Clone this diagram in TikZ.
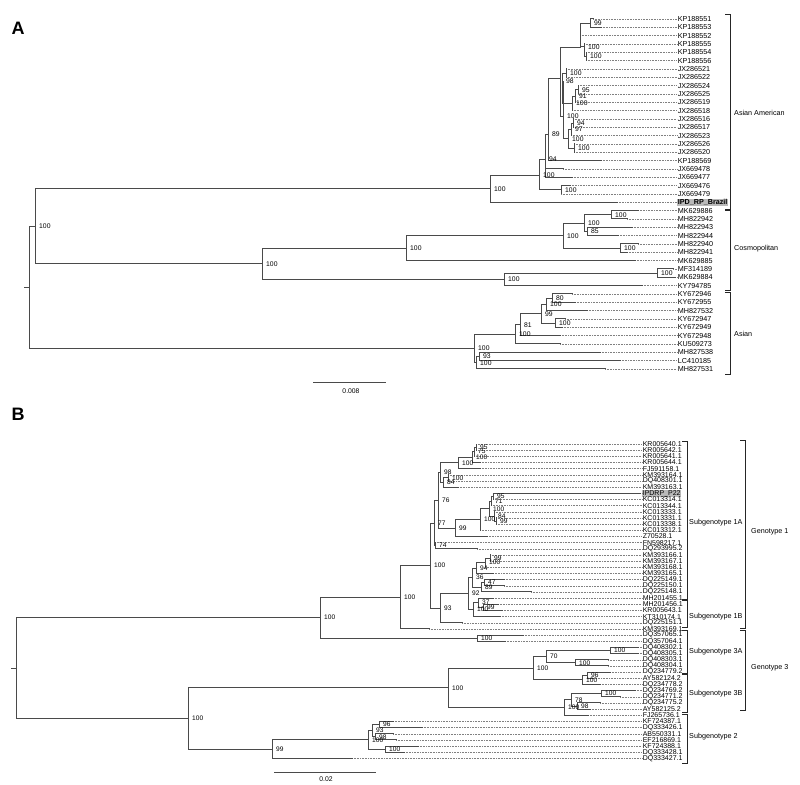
\documentclass[tikz,border=0pt]{standalone}
\usepackage{fontspec}
\setmainfont{Liberation Sans}
\usetikzlibrary{positioning}
\definecolor{treegray}{HTML}{4A4A4A}

\tikzset{
  branch/.style={draw=treegray, line width=1pt, line cap=rect},
  leader/.style={draw=gray, line width=0.4pt, dash pattern=on 0.8pt off 0.8pt},
  taxon/.style={anchor=west, inner sep=0.6pt, font=\fontsize{7.2}{7.2}\selectfont},
  hl/.style={taxon, fill=gray!55, font=\fontsize{7.2}{7.2}\selectfont\bfseries},
  boot/.style={anchor=west, inner sep=0pt, xshift=4pt, font=\fontsize{6.8}{6.8}\selectfont},
  bracket/.style={draw=black!85, line width=1pt},
  grouplab/.style={anchor=west, inner sep=0pt, font=\fontsize{7.2}{7.2}\selectfont},
  panel/.style={font=\fontsize{18}{18}\selectfont\bfseries},
}

% clade: name, x, y, support, children
\newcommand{\clade}[5]{%
  \coordinate (#1) at (#2,#3);
  \foreach \ch in {#5}{\draw[branch] (#1) |- (\ch);}
  \ifx&#4&\else\node[boot] (#1-bs) at (#1) {#4};\fi
}
% group bracket: x, top, bottom
\newcommand{\grp}[3]{\draw[bracket] ({#1-5},#2) -- (#1,#2) -- (#1,#3) -- ({#1-5},#3);}

\begin{document}
\begin{tikzpicture}[x=1pt,y=-1pt]
\useasboundingbox (0,0) rectangle (800,784);

%%%%%%%%%%%%%%%%%%%%%%%%%%%%%%%%%%%%%%%%%%%%%%%%%%%%
% Panel A
\node[panel] (labA) at (18,28) {A};

%Taxa
\foreach \nm/\tx/\st [count=\i] in {KP188551/593/taxon, KP188553/601/taxon, KP188552/580/taxon,
    KP188555/584/taxon, KP188554/586/taxon, KP188556/586/taxon, JX286521/566/taxon,
    JX286522/566/taxon, JX286524/578/taxon, JX286525/578/taxon, JX286519/575/taxon,
    JX286518/572/taxon, JX286516/573/taxon, JX286517/573/taxon, JX286523/571/taxon,
    JX286526/574/taxon, JX286520/574/taxon, KP188569/601/taxon, JX669478/563/taxon,
    JX669477/572/taxon, JX669476/570/taxon, JX669479/561/taxon, IPD\_RP\_Brazil/617/hl,
    MK629886/638/taxon, MH822942/627/taxon, MH822943/632/taxon, MH822944/618/taxon,
    MH822940/638/taxon, MH822941/627/taxon, MK629885/635/taxon, MF314189/673/taxon,
    MK629884/675/taxon, KY794785/642/taxon, KY672946/572/taxon, KY672955/575/taxon,
    MH827532/587/taxon, KY672947/565/taxon, KY672949/562/taxon, KY672948/560/taxon,
    KU509273/560/taxon, MH827538/600/taxon, LC410185/620/taxon, MH827531/605/taxon}{
  \node[\st] (a\i) at (677,{19+(\i-1)*8.33}) {\nm};
  \coordinate (ta\i) at (\tx,{19+(\i-1)*8.33});
  \draw[leader] (ta\i) -- (a\i.west);
}

%Asian American
\clade{a99}{590}{23.2}{99}{ta1,ta2}
\clade{a100b}{586}{56.5}{100}{ta5,ta6}
\clade{a100a}{584}{47}{100}{ta4,a100b}
\clade{akp}{580}{47.7}{}{a99,ta3,a100a}
\clade{a100j}{566}{73.2}{100}{ta7,ta8}
\clade{a95}{578}{89.8}{95}{ta9,ta10}
\clade{a91}{575}{96}{91}{a95,ta11}
\clade{a100k}{572}{103.3}{100}{a91,ta12}
\clade{a98}{562}{81}{98}{a100j,a100k}
\clade{a94b}{573}{123.2}{94}{ta13,ta14}
\clade{a97}{571}{129.4}{97}{a94b,ta15}
\clade{a100m}{574}{148.2}{100}{ta16,ta17}
\clade{a100n}{568}{138.8}{100}{a97,a100m}
\clade{a100o}{563}{116}{100}{a98,a100n}
\clade{atop}{560}{78}{}{akp,a100o}
\clade{a89}{548}{134}{89}{atop,ta18}
\clade{a94}{545}{159.5}{94}{a89,ta19,ta20}
\clade{a100p}{561}{189.8}{100}{ta21,ta22}
\clade{a100x}{539}{175.1}{100}{a94,a100p}
\clade{aAA}{490}{188.7}{100}{a100x,ta23}

%Cosmopolitan
\clade{ac1}{611}{214.8}{100}{ta24,ta25}
\clade{ac85}{587}{231.5}{85}{ta26,ta27}
\clade{ac2}{584}{223.2}{100}{ac1,ac85}
\clade{ac3}{620}{248.1}{100}{ta28,ta29}
\clade{ac4}{563}{235.7}{100}{ac2,ac3}
\clade{ac5}{406}{248.3}{100}{ac4,ta30}
\clade{ac6}{657}{273.2}{100}{ta31,ta32}
\clade{ac7}{504}{279.4}{100}{ac6,ta33}
\clade{aCos}{262}{263.9}{100}{ac5,ac7}
\clade{aAC}{35}{226.3}{100}{aAA,aCos}

%Asian
\clade{as80}{552}{298.1}{80}{ta34,ta35}
\clade{as100a}{546}{304.4}{100}{as80,ta36}
\clade{as100t}{555}{323.1}{100}{ta37,ta38}
\clade{as99}{541}{313.8}{99}{as100a,as100t}
\clade{as81}{520}{324.7}{81}{as99,ta39}
\clade{as100u}{515}{334.3}{100}{as81,ta40}
\clade{as93}{479}{356.5}{93}{ta41,ta42}
\clade{as100v}{476}{362.7}{100}{as93,ta43}
\clade{aAs}{474}{348.5}{100}{as100u,as100v}

%Root
\clade{aroot}{29}{287.4}{}{aAC,aAs}
\coordinate (astem) at (24,287.4);
\draw[branch] (astem) -- (aroot);

%Groups
\grp{730}{15}{209}
\grp{730}{210}{290}
\grp{730}{292}{374}
\node[grouplab] (gAA) at (734,113) {Asian American};
\node[grouplab] (gCos) at (734,249) {Cosmopolitan};
\node[grouplab] (gAs) at (734,334) {Asian};

%Scale
\coordinate (sa1) at (313,382);
\coordinate (sa2) at (385,382);
\draw[branch] (sa1) -- (sa2);
\node[font=\fontsize{6.8}{6.8}\selectfont] (scA) at (351,391) {0.008};

%%%%%%%%%%%%%%%%%%%%%%%%%%%%%%%%%%%%%%%%%%%%%%%%%%%%
% Panel B
\node[panel] (labB) at (18,414) {B};
\tikzset{boot/.append style={font=\fontsize{6.6}{6.6}\selectfont}}

%Taxa
\foreach \nm/\tx/\st [count=\i] in {KR005640.1/476/taxon, KR005642.1/476/taxon, KR005641.1/474/taxon,
    KR005644.1/480/taxon, FJ591158.1/480/taxon, KM393164.1/448/taxon, DQ408301.1/448/taxon,
    KM393163.1/458/taxon, IPDRP\_P22/640/hl, KC013314.1/493/taxon, KC013344.1/491/taxon,
    KC013333.1/494/taxon, KC013331.1/496/taxon, KC013338.1/496/taxon, KC013312.1/480/taxon,
    Z70528.1/487/taxon, FN598217.1/435/taxon, DQ293995.2/477/taxon, KM393166.1/490/taxon,
    KM393167.1/490/taxon, KM393168.1/485/taxon, KM393165.1/493/taxon, DQ225149.1/504/taxon,
    DQ225150.1/504/taxon, DQ225148.1/531/taxon, MH201455.1/493/taxon, MH201456.1/498/taxon,
    KR005643.1/502/taxon, KT310174.1/500/taxon, DQ225151.1/462/taxon, KM393169.1/429/taxon,
    DQ357065.1/523/taxon, DQ357064.1/505/taxon, DQ408302.1/638/taxon, DQ408305.1/638/taxon,
    DQ408303.1/608/taxon, DQ408304.1/608/taxon, DQ234779.2/610/taxon, AY582124.2/593/taxon,
    DQ234778.2/600/taxon, DQ234769.2/635/taxon, DQ234771.2/620/taxon, DQ234775.2/600/taxon,
    AY582125.2/590/taxon, FJ265736.1/588/taxon, KF724387.1/393/taxon, DQ333426.1/422/taxon,
    AB550331.1/393/taxon, EF216869.1/396/taxon, KF724388.1/418/taxon, DQ333428.1/404/taxon,
    DQ333427.1/352/taxon}{
  \node[\st,font=\fontsize{7}{7}\selectfont] (b\i) at (642,{444+(\i-1)*6.165}) {\nm};
  \coordinate (tb\i) at (\tx,{444+(\i-1)*6.165});
  \draw[leader] (tb\i) -- (b\i.west);
}

%Genotype 1
\clade{b95}{476}{447.1}{95}{tb1,tb2}
\clade{b75}{474}{451.7}{75}{b95,tb3}
\clade{b100a}{472}{457.1}{100}{b75,tb4}
\clade{b100b}{458}{462.9}{100}{b100a,tb5}
\clade{b100c}{448}{477.9}{100}{tb6,tb7}
\clade{b84}{443}{482.5}{84}{b100c,tb8}
\clade{b98}{440}{472.7}{98}{b100b,b84}
\clade{b95b}{493}{496.4}{95}{tb9,tb10}
\clade{b71}{491}{501}{71}{b95b,tb11}
\clade{b99b}{496}{521}{99}{tb13,tb14}
\clade{b84b}{494}{516.5}{84}{tb12,b99b}
\clade{b100d}{489}{508.8}{100}{b71,b84b}
\clade{b100e}{480}{519.5}{100}{b100d,tb15}
\clade{b99}{455}{528}{99}{b100e,tb16}
\clade{b76}{438}{500.4}{76}{b98,b99}
\clade{b74}{435}{545.7}{74}{tb17,tb18}
\clade{b77}{434}{523}{77}{b76,b74}
\clade{b99c}{490}{558}{99}{tb19,tb20}
\clade{b100f}{485}{562.7}{100}{b99c,tb21}
\clade{b94}{476}{568}{94}{b100f,tb22}
\clade{b47}{484}{582.7}{47}{tb23,tb24}
\clade{b89}{481}{587.3}{89}{b47,tb25}
\clade{b36}{472}{577.7}{36}{b94,b89}
\clade{b99d}{483}{607.4}{99}{tb27,tb28}
\clade{b37}{478}{602.7}{37}{tb26,b99d}
\clade{b100g}{473}{609.7}{100}{b37,tb29}
\clade{b92}{468}{593.7}{92}{b36,b100g}
\clade{b93}{440}{608}{93}{b92,tb30}
\clade{b100h}{430}{565.5}{100}{b77,b93}
\clade{b100i}{400}{597.2}{100}{b100h,tb31}
\clade{b100j}{477}{638.2}{100}{tb32,tb33}
\clade{b100k}{320}{617.7}{100}{b100i,b100j}

%Genotype 3
\clade{b100l}{610}{650.5}{100}{tb34,tb35}
\clade{b100m}{575}{662.8}{100}{tb36,tb37}
\clade{b70}{546}{656.7}{70}{b100l,b100m}
\clade{b96}{587}{675.2}{96}{tb38,tb39}
\clade{b100n}{582}{679.8}{100}{b96,tb40}
\clade{b100o}{533}{668.3}{100}{b70,b100n}
\clade{b100p}{601}{693.7}{100}{tb41,tb42}
\clade{b98c}{577}{706}{98}{tb43,tb44}
\clade{b78}{571}{699.8}{78}{b100p,b98c}
\clade{b100q}{564}{707.5}{100}{b78,tb45}
\clade{b100r}{448}{687.9}{100}{b100o,b100q}

%Genotype 2
\clade{b96b}{379}{724.5}{96}{tb46,tb47}
\clade{b98b}{375}{736.8}{98}{tb48,tb49}
\clade{b93b}{372}{730.6}{93}{b96b,b98b}
\clade{b100s}{385}{749.2}{100}{tb50,tb51}
\clade{b100u}{368}{739.9}{100}{b93b,b100s}
\clade{b99e}{272}{749.1}{99}{b100u,tb52}
\clade{b100t}{188}{718.5}{100}{b100r,b99e}

%Root
\clade{broot}{16}{668.1}{}{b100k,b100t}
\coordinate (bstem) at (11,668.1);
\draw[branch] (bstem) -- (broot);

%Groups
\grp{687}{441}{599}
\grp{687}{600}{627}
\grp{687}{630}{673}
\grp{687}{674}{712}
\grp{687}{714}{763}
\grp{745}{440}{628}
\grp{745}{630}{710}
\node[grouplab] (g1A) at (689,523) {Subgenotype 1A};
\node[grouplab] (g1B) at (689,617) {Subgenotype 1B};
\node[grouplab] (g3A) at (689,652) {Subgenotype 3A};
\node[grouplab] (g3B) at (689,694) {Subgenotype 3B};
\node[grouplab] (g2) at (689,737) {Subgenotype 2};
\node[grouplab] (gG1) at (751,532) {Genotype 1};
\node[grouplab] (gG3) at (751,668) {Genotype 3};

%Scale
\coordinate (sb1) at (274,772);
\coordinate (sb2) at (375,772);
\draw[branch] (sb1) -- (sb2);
\node[font=\fontsize{6.8}{6.8}\selectfont] (scB) at (326,779) {0.02};

\end{tikzpicture}
\end{document}
